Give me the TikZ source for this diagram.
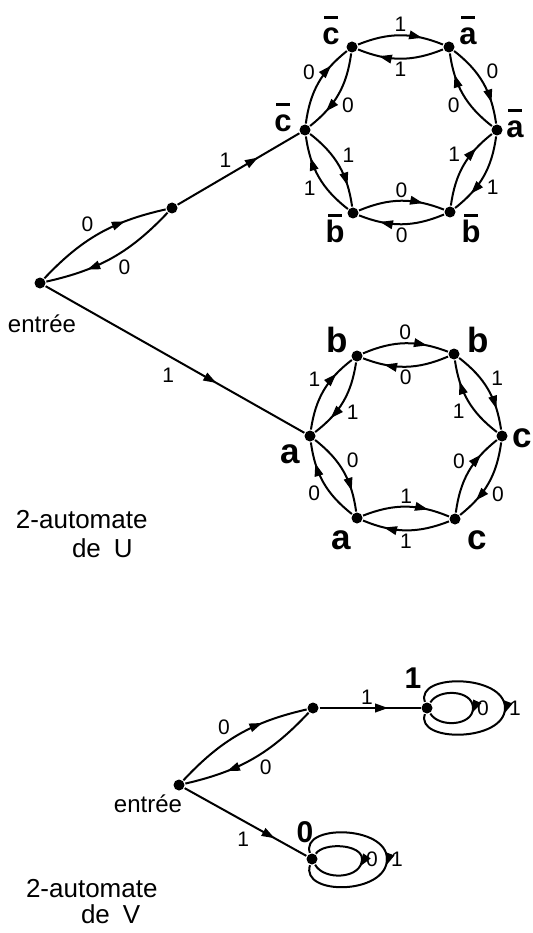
\documentclass[tikz,border=0pt]{standalone}
\usepackage{fontspec}
\setmainfont{Liberation Sans}
\usetikzlibrary{arrows.meta,decorations.markings}
\newsavebox{\lblbox}
\newcommand{\barred}[1]{\sbox\lblbox{#1}\rlap{\makebox[\wd\lblbox]{\raisebox{26pt}{\rule{14pt}{3pt}}}}\usebox\lblbox}
\begin{document}
\begin{tikzpicture}[x=1pt,y=1pt,line width=2pt,
  st/.style={circle,fill,inner sep=0pt,minimum size=11pt},
  am/.style={postaction={decorate,decoration={markings,mark=at position #1 with {\arrow{Triangle[length=13pt,width=8.5pt]}}}}},
  am/.default=0.75,
  lab/.style={font=\fontsize{21}{21}\selectfont,inner sep=2.5pt},
  txt/.style={font=\fontsize{24}{24}\selectfont,inner sep=0pt},
  ttl/.style={font=\fontsize{26}{26}\selectfont,inner sep=0pt,anchor=base west},
  bigT/.style={font=\fontsize{31}{31}\selectfont\bfseries,inner sep=0pt,anchor=base},
  bigB/.style={font=\fontsize{35}{35}\selectfont\bfseries,inner sep=0pt,anchor=base},
  bigV/.style={font=\fontsize{30}{30}\selectfont\bfseries,inner sep=0pt,anchor=base}]
\useasboundingbox (0,0) rectangle (532,-933);

% ---------- 2-automate de U ----------
\node[st] (e1) at (40,-283) {};
\node[st] (m1) at (172,-208) {};
\node[txt,anchor=base] (te1) at (42,-332) {entrée};

% top hexagon
\node[st] (T0)   at (497,-130) {};
\node[st] (T60)  at (449,-47) {};
\node[st] (T120) at (352,-47) {};
\node[st] (T180) at (305,-130) {};
\node[st] (T240) at (353,-213) {};
\node[st] (T300) at (450,-212) {};

\node[bigT] (lT120) at (331,-45) {\barred{c}};
\node[bigT] (lT60)  at (468,-45) {\barred{a}};
\node[bigT] (lT0)   at (515,-138) {\barred{a}};
\node[bigT] (lT300) at (471,-243) {\barred{b}};
\node[bigT] (lT240) at (335,-243) {\barred{b}};
\node[bigT] (lT180) at (283,-132) {\barred{c}};

\foreach \a/\b/\l in {T180/T120/0, T120/T60/1, T60/T0/0, T0/T300/1, T300/T240/0, T240/T180/1,
                      T120/T180/0, T60/T120/1, T0/T60/0, T300/T0/1, T240/T300/0, T180/T240/1}
  \draw[am] (\a) to[bend left=22] node[lab,auto] {\l} (\b);

% bottom hexagon
\node[st] (B0)   at (502,-436) {};
\node[st] (B60)  at (454,-354) {};
\node[st] (B120) at (357,-356) {};
\node[st] (B180) at (310,-436) {};
\node[st] (B240) at (357,-518) {};
\node[st] (B300) at (455,-519) {};

\node[bigB] (lB120) at (337,-352) {b};
\node[bigB] (lB60)  at (478,-352) {b};
\node[bigB] (lB0)   at (522,-447) {c};
\node[bigB] (lB180) at (290,-463) {a};
\node[bigB] (lB240) at (341,-549) {a};
\node[bigB] (lB300) at (477,-549) {c};

\foreach \a/\b/\l in {B180/B120/1, B120/B60/0, B60/B0/1, B0/B300/0, B300/B240/1, B240/B180/0,
                      B120/B180/1, B60/B120/0, B0/B60/1, B300/B0/0, B240/B300/1, B180/B240/0}
  \draw[am] (\a) to[bend left=22] node[lab,auto] {\l} (\b);

% entry connections
\draw[am=0.7] (e1) to[bend left=17] node[lab,auto,pos=0.48] {0} (m1);
\draw[am=0.7] (m1) to[bend left=17] node[lab,auto,pos=0.48] {0} (e1);
\draw[am=0.66] (m1) -- node[lab,auto,pos=0.47] {1} (T180);
\draw[am=0.66] (e1) -- node[lab,auto,swap,pos=0.52,inner sep=5pt] {1} (B180);

\node[ttl] (tu1) at (15,-528) {2-automate};
\node[ttl] (tu2) at (71,-557) {de\enspace U};

% ---------- 2-automate de V ----------
\node[st] (e2) at (179,-785) {};
\node[st] (m2) at (313,-708) {};
\node[st] (n1) at (427,-708) {};
\node[st] (n0) at (312,-859) {};
\node[txt,anchor=base] (te2) at (148,-812) {entrée};
\node[bigV] (ln1) at (413,-688) {1};
\node[bigV] (ln0) at (305,-842) {0};

\draw[am=0.68] (e2) to[bend left=17] node[lab,auto,pos=0.45] {0} (m2);
\draw[am=0.7] (m2) to[bend left=17] node[lab,auto,pos=0.47] {0} (e2);
\draw[am=0.68] (m2) -- node[lab,auto,pos=0.47] {1} (n1);
\draw[am=0.74] (e2) -- node[lab,auto,swap,pos=0.57,inner sep=4pt] {1} (n0);

% loops on node 1
\draw[am=0.55] (n1) .. controls +(12,20) and +(0,18) .. ++(46,0) node[lab,right,inner sep=3pt] {0}
                    .. controls +(0,-18) and +(12,-20) .. (n1);
\draw[am=0.53] (n1) .. controls +(-12,35) and +(0,34) .. ++(78,0) node[lab,right,inner sep=3pt] {1}
                    .. controls +(0,-34) and +(-12,-35) .. (n1);
% loops on node 0
\draw[am=0.55] (n0) .. controls +(12,17) and +(0,15) .. ++(50,0) node[lab,right,inner sep=3pt] {0}
                    .. controls +(0,-20) and +(12,-22) .. (n0);
\draw[am=0.53] (n0) .. controls +(-12,35) and +(0,34) .. ++(75,0) node[lab,right,inner sep=3pt] {1}
                    .. controls +(0,-36) and +(-12,-37) .. (n0);

\node[ttl] (tv1) at (25,-897) {2-automate};
\node[ttl] (tv2) at (80,-923) {de\enspace V};
\end{tikzpicture}
\end{document}
